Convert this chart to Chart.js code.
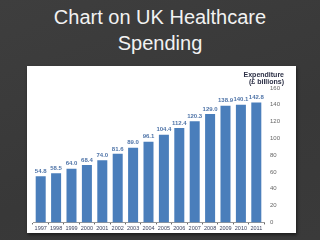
<!DOCTYPE html>
<html>
<head>
<meta charset="utf-8">
<script src="https://cdn.jsdelivr.net/npm/chart.js@4.4.1/dist/chart.umd.min.js"></script>
<style>
  html, body { margin: 0; padding: 0; }
  body {
    width: 320px; height: 240px; overflow: hidden;
    background: linear-gradient(160deg, #3e3e3e 0%, #383838 60%, #3a3a3a 100%);
    position: relative;
    font-family: "Liberation Sans", Arial, sans-serif;
  }
  #title {
    position: absolute; left: 0; top: 4px; width: 320px;
    text-align: center; color: #f2f2f2; font-size: 20px; line-height: 26px;
  }
  #panel {
    position: absolute; left: 27px; top: 66px; width: 269px; height: 167px;
    background: #fff; box-shadow: 1px 2px 3px rgba(0,0,0,0.5);
  }
</style>
</head>
<body>
<div id="title">Chart on UK Healthcare<br>Spending</div>
<div id="panel"><canvas id="chart" width="269" height="167"></canvas></div>
<script>
// 연도별 지출 (£ billions)
const years = ['1997', '1998', '1999', '2000', '2001', '2002', '2003', '2004',
    '2005', '2006', '2007', '2008', '2009', '2010', '2011'];
const spending = [54.8, 58.5, 64.0, 68.4, 74.0, 81.6, 89.0, 96.1,
    104.4, 112.4, 120.3, 129.0, 138.9, 140.1, 142.8];
const yTicks = [0, 20, 40, 60, 80, 100, 120, 140, 160];
const axisTitle = ['Expenditure', '(£ billions)'];

const FONT = '"Liberation Sans", Arial, sans-serif';

// 막대 위 값 표시
const valueLabels = {
    id: 'valueLabels',
    afterDatasetsDraw(chart) {
        const ctx = chart.ctx;
        const meta = chart.getDatasetMeta(0);
        ctx.save();
        ctx.font = 'bold 6px ' + FONT;
        ctx.fillStyle = '#4f74a8';
        ctx.textAlign = 'center';
        ctx.textBaseline = 'bottom';
        meta.data.forEach((bar, i) => {
            ctx.fillText(spending[i].toFixed(1), bar.x, bar.y - 2);
        });
        // 축 제목
        const top = chart.chartArea.top;
        ctx.font = 'bold 7px ' + FONT;
        ctx.fillStyle = '#2b2f45';
        ctx.textAlign = 'right';
        ctx.textBaseline = 'alphabetic';
        ctx.fillText(axisTitle[0], 257, top - 11);
        ctx.fillText(axisTitle[1], 257, top - 4);
        ctx.restore();
    }
};

const chart = document.getElementById('chart');
new Chart(chart, {
    type: 'bar',
    data: {
        labels: years,
        datasets: [{
            data: spending,
            backgroundColor: '#4a7ebb',
            borderWidth: 0,
            categoryPercentage: 1,
            barPercentage: 0.65
        }]
    },
    options: {
        responsive: false,
        animation: false,
        layout: { padding: { top: 22, left: 6, right: 2, bottom: 0 } },
        plugins: { legend: { display: false }, tooltip: { enabled: false } },
        scales: {
            x: {
                grid: { display: true, drawOnChartArea: false, tickLength: 2, color: '#666' },
                border: { display: true, color: '#999' },
                ticks: {
                    color: '#3d4460', padding: 1, maxRotation: 0, autoSkip: false,
                    font: { size: 5.5, family: FONT }
                }
            },
            y: {
                position: 'right',
                min: 0, max: 160,
                afterBuildTicks(axis) { axis.ticks = yTicks.map(v => ({ value: v })); },
                afterFit(axis) { axis.width = 30; },
                grid: { display: false, drawTicks: false },
                border: { display: false },
                ticks: {
                    color: '#666', padding: 6,
                    font: { size: 6, family: FONT }
                }
            }
        }
    },
    plugins: [valueLabels]
});
</script>
</body>
</html>
